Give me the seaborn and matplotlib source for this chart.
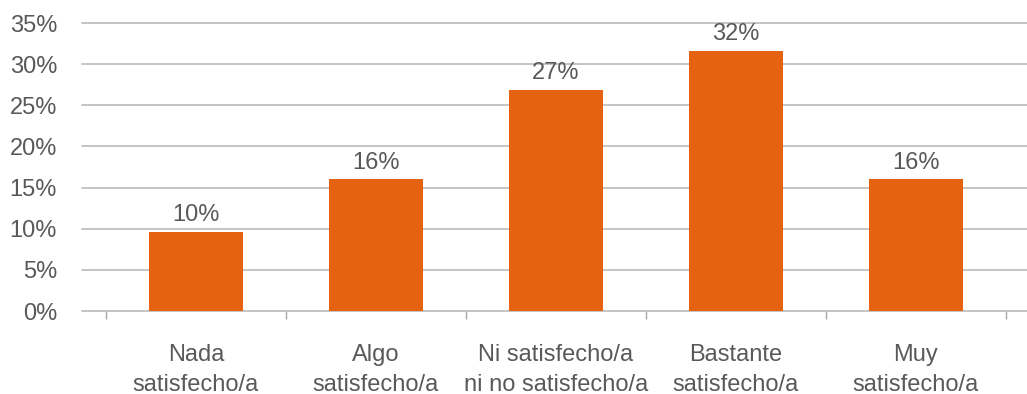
import numpy as np
import pandas as pd
import matplotlib
matplotlib.use("Agg")
import matplotlib.pyplot as plt
from matplotlib.ticker import FixedLocator, PercentFormatter
import seaborn as sns

# Datos
categorias = ["Nada\nsatisfecho/a", "Algo\nsatisfecho/a", "Ni satisfecho/a\nni no satisfecho/a",
              "Bastante\nsatisfecho/a", "Muy\nsatisfecho/a"]
valores = [9.6, 16.0, 26.9, 31.6, 16.0]
etiquetas = ["10%", "16%", "27%", "32%", "16%"]
yticks = [0, 5, 10, 15, 20, 25, 30, 35]

df = pd.DataFrame({"categoria": categorias, "valor": valores})

sns.set_style("white")
plt.rcParams["font.family"] = ["Liberation Sans", "DejaVu Sans"]
gris = "#595959"

fig = plt.figure(figsize=(10.27, 3.94), dpi=100)
ax = fig.add_axes([82 / 1027, 1 - 311 / 394, 1 - 82 / 1027, (311 - 23) / 394])

sns.barplot(data=df, x="categoria", y="valor", color="#E46210", saturation=1,
            width=0.52, linewidth=0, ax=ax, zorder=3)

# Etiquetas de valor
ax.bar_label(ax.containers[0], labels=etiquetas, padding=4, fontsize=17, color=gris)

# Ejes y rejilla
ax.set_ylim(0, 35)
ax.set_yticks(yticks)
ax.yaxis.set_major_formatter(PercentFormatter(decimals=0))
ax.set_xlim(-0.633, 4.617)
ax.grid(axis="y", color="#BFBFBF", linewidth=1.3, zorder=0)
for gl in ax.get_ygridlines():
    gl.set_clip_on(False)
for s in ax.spines.values():
    s.set_visible(False)

ax.set_xlabel("")
ax.set_ylabel("")
ax.tick_params(axis="y", length=0, pad=18, labelsize=17, labelcolor=gris)
ax.tick_params(axis="x", which="major", length=0, pad=24, labelsize=17, labelcolor=gris)
for t in ax.get_xticklabels():
    t.set_linespacing(1.45)
ax.xaxis.set_minor_locator(FixedLocator(np.arange(-0.5, 5, 1)))
ax.tick_params(axis="x", which="minor", bottom=True, length=6, width=1,
               color="#A6A6A6", direction="out")

fig.savefig("out.png", dpi=100)
